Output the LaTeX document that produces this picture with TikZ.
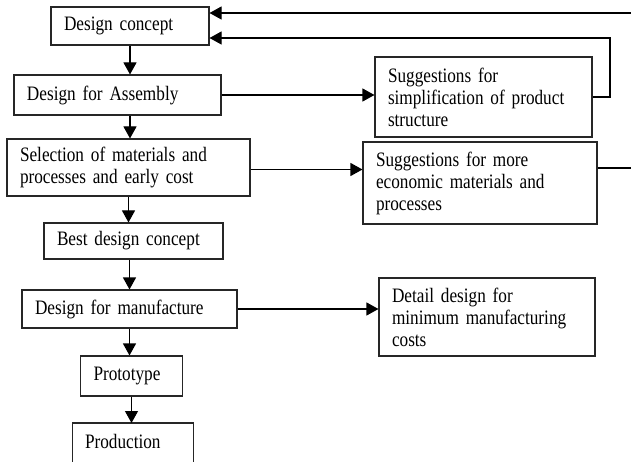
\documentclass[tikz,border=0pt]{standalone}
\usepackage{fontspec}
\setmainfont{Liberation Serif}[FakeStretch=0.84,WordSpace=0.7]
\usetikzlibrary{arrows.meta}
\begin{document}
\begin{tikzpicture}[x=1pt,y=-1pt,
  every node/.style={font=\fontsize{20.5}{22}\selectfont},
  boxbase/.style={align=left, inner xsep=13pt, inner ysep=1pt, anchor=center},
  box/.style={boxbase, draw=black!85, line width=1.1pt},
  frameline/.style={draw=black!85, line width=1.1pt},
  arr/.style={line width=1.1pt, -{Triangle[length=12pt,width=13pt]}},
  ln/.style={line width=1.1pt}]
\useasboundingbox (0,0) rectangle (631,462);
\clip (0,0) rectangle (631,462);
% left column
\node[box, minimum width=158pt, minimum height=38pt, text width=132pt] (dc) at (130,26) {Design concept};
\node[box, minimum width=207pt, minimum height=40pt, text width=181pt] (dfa) at (117.5,95) {Design for Assembly};
\node[box, minimum width=243pt, minimum height=57pt, text width=217pt] (sel) at (128.5,167.5) {Selection of materials and\\processes and early cost};
\node[box, minimum width=179pt, minimum height=36pt, text width=153pt] (best) at (133.5,241) {Best design concept};
\node[box, minimum width=215pt, minimum height=38pt, text width=189pt] (dfm) at (129.5,309) {Design for manufacture};
\node[box, minimum width=101pt, minimum height=40pt, text width=76pt] (proto) at (131.5,376) {Prototype};
\node[boxbase, minimum width=120pt, minimum height=37pt, text width=96pt, inner xsep=12pt, anchor=north] (prod) at (133,423) {Production};
\draw[frameline] ([yshift=-20pt]prod.south west) -- (prod.north west) -- (prod.north east) -- ([yshift=-20pt]prod.south east);
% right column
\node[box, minimum width=217pt, minimum height=80pt, text width=191pt] (simp) at (483.5,97) {Suggestions for\\simplification of product\\structure};
\node[box, minimum width=234pt, minimum height=82pt, text width=208pt] (econ) at (480,183) {Suggestions for more\\economic materials and\\processes};
\node[box, minimum width=216pt, minimum height=78pt, text width=190pt] (det) at (487,317) {Detail design for\\minimum manufacturing\\costs};
% free ends
\coordinate (fbtop) at (631,13);
\coordinate (fbmid) at (610,38);
\coordinate (fbecon) at (631,168);
% vertical flow
\draw[arr] (dc.south) -- (dc.south |- dfa.north);
\draw[arr] (dc.south |- dfa.south) -- (dc.south |- sel.north);
\draw[arr] (sel.south) -- (sel.south |- best.north);
\draw[arr] (dfm.north |- best.south) -- (dfm.north);
\draw[arr] (dfm.south) -- (dfm.south |- proto.north);
\draw[arr] (proto.south) -- (proto.south |- prod.north);
% horizontal flow
\draw[arr] (dfa.east) -- (dfa.east -| simp.west);
\draw[arr] ([yshift=-2pt]sel.east) -- ([yshift=-2pt]sel.east -| econ.west);
\draw[arr] (dfm.east) -- (dfm.east -| det.west);
% feedback
\draw[arr] (simp.east) -- (simp.east -| fbmid) -- (fbmid) -- (fbmid -| dc.east);
\draw[arr] (fbtop) -- (fbtop -| dc.east);
\draw[ln] (fbecon -| econ.east) -- (fbecon);
\end{tikzpicture}
\end{document}
